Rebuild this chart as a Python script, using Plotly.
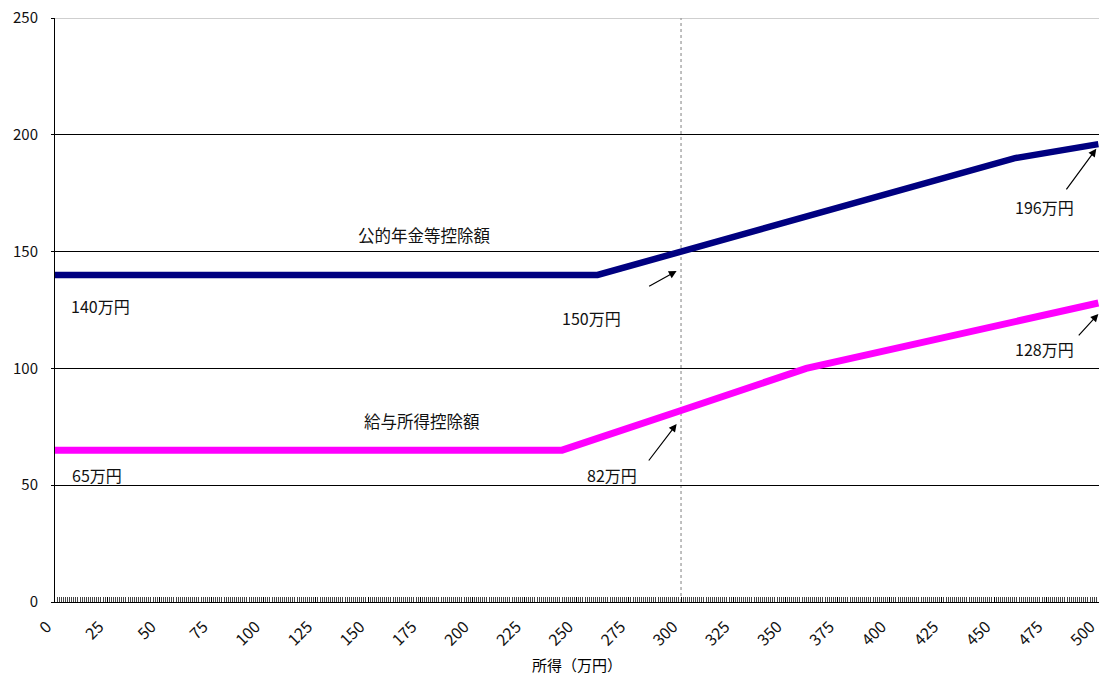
import plotly.graph_objects as go

# ---- data (万円) ----
pension_x = [0, 260, 300, 460, 500]
pension_y = [140, 140, 150, 190, 196]
salary_x = [0, 243, 300, 360, 500]
salary_y = [65, 65, 82, 100, 128]

x_ticks = list(range(0, 501, 25))
y_ticks = [0, 50, 100, 150, 200, 250]
ref_x = 300
y_top = 250

series_labels = ["公的年金等控除額", "給与所得控除額"]
x_title = "所得（万円）"

FONT = "Noto Sans CJK JP"

fig = go.Figure()
fig.add_trace(go.Scatter(x=pension_x, y=pension_y, mode="lines",
                         line=dict(color="#000080", width=6.5), name=series_labels[0],
                         cliponaxis=False))
fig.add_trace(go.Scatter(x=salary_x, y=salary_y, mode="lines",
                         line=dict(color="#FF00FF", width=7), name=series_labels[1],
                         cliponaxis=False))

# reference dotted vertical line at x = 300
fig.add_shape(type="line", xref="x", yref="paper", x0=ref_x, x1=ref_x, y0=0, y1=1,
              line=dict(color="#808080", width=1, dash="dot"), layer="below")
# top border (gray) at 250
fig.add_shape(type="line", xref="paper", yref="y", x0=0, x1=1, y0=y_top, y1=y_top,
              line=dict(color="#a0a0a0", width=1), layer="below")

ann = []
def txt(x, y, t, size=16):
    ann.append(dict(x=x, y=y, xref="x", yref="y", text=t, showarrow=False,
                    font=dict(family=FONT, size=size, color="#111")))

def arrow(x, y, ax, ay):
    ann.append(dict(x=x, y=y, xref="x", yref="y", text="", showarrow=True,
                    ax=ax, ay=ay, arrowhead=2, arrowsize=1.3, arrowwidth=1.2,
                    arrowcolor="#000"))

txt(177, 157, series_labels[0], 16.5)
txt(176, 77.5, series_labels[1], 16.5)
txt(22, 126.7, "140万円")
txt(20, 54.4, "65万円")
txt(257, 121.6, "150万円")
txt(267, 54.4, "82万円")
txt(474, 169, "196万円")
txt(474, 108.3, "128万円")
arrow(297.9, 141.7, -29, 16)
arrow(297.9, 76.2, -29, 38)
arrow(499, 194.0, -31, 42)
arrow(500, 123.3, -21, 23)

fig.update_layout(
    width=1099, height=675,
    margin=dict(l=55, r=0, t=18, b=73),
    paper_bgcolor="white", plot_bgcolor="white",
    showlegend=False,
    font=dict(family=FONT, color="#000"),
    annotations=ann,
)
fig.update_xaxes(
    range=[0, 500.3], tickvals=x_ticks, ticktext=[str(v) for v in x_ticks],
    tickangle=-45, tickfont=dict(size=16, family=FONT, color="#111"),
    ticklabelstandoff=8, ticklabelshift=-8, ticklabeloverflow="allow",
    automargin=False,
    showgrid=False, zeroline=False,
    showline=True, linecolor="#000", linewidth=1,
    ticks="inside", ticklen=5, tickcolor="#000",
    minor=dict(dtick=1, ticks="inside", ticklen=5, tickcolor="#444", tickwidth=1),
    title=dict(text=x_title, font=dict(size=15, family=FONT)),
)
fig.update_yaxes(
    range=[0, 250], tickvals=y_ticks,
    tickfont=dict(size=15, family=FONT, color="#111"),
    automargin=False,
    showgrid=True, gridcolor="#000", gridwidth=1, zeroline=False,
    showline=True, linecolor="#000", linewidth=1,
    ticks="outside", ticklen=3, tickcolor="#000",
    ticklabelstandoff=10,
)

fig.write_html("out.html")
